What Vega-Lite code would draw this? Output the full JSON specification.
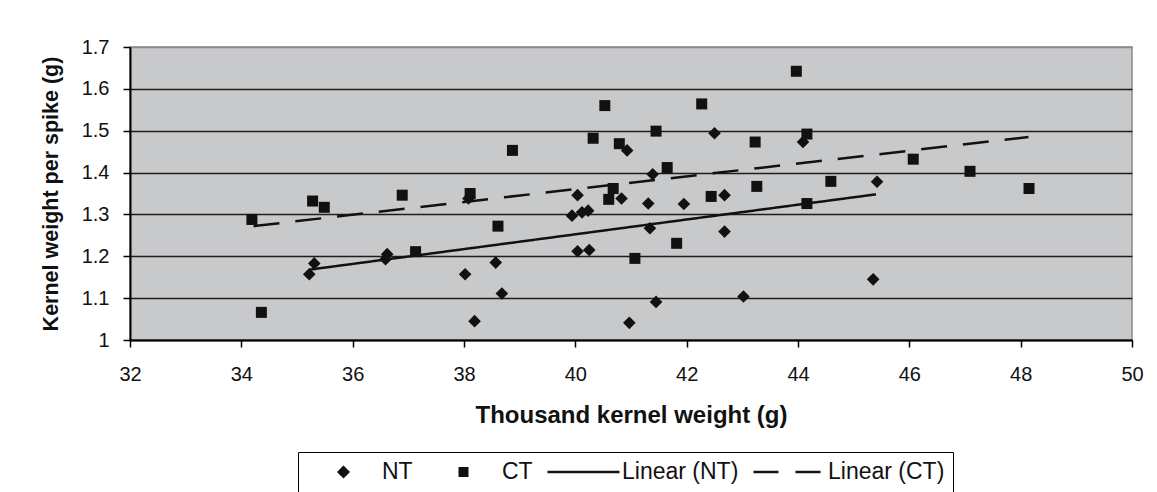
{
  "$schema": "https://vega.github.io/schema/vega-lite/v6.json",
  "width": 1002,
  "height": 293,
  "autosize": {"type": "none"},
  "padding": {"left": 130, "top": 47, "right": 25, "bottom": 152},
  "background": "white",
  "config": {
    "font": "Liberation Sans",
    "view": {"fill": "#c8c9cb", "stroke": "#8a8a8a", "strokeWidth": 1.5}
  },
  "datasets": {
    "pts": [
      {"series": "NT", "tkw": 35.22, "kws": 1.157},
      {"series": "NT", "tkw": 35.31, "kws": 1.183},
      {"series": "NT", "tkw": 36.59, "kws": 1.193},
      {"series": "NT", "tkw": 36.62, "kws": 1.205},
      {"series": "NT", "tkw": 38.02, "kws": 1.157},
      {"series": "NT", "tkw": 38.08, "kws": 1.338},
      {"series": "NT", "tkw": 38.19, "kws": 1.045},
      {"series": "NT", "tkw": 38.57, "kws": 1.185},
      {"series": "NT", "tkw": 38.68, "kws": 1.111},
      {"series": "NT", "tkw": 39.94, "kws": 1.297},
      {"series": "NT", "tkw": 40.04, "kws": 1.346},
      {"series": "NT", "tkw": 40.04, "kws": 1.212},
      {"series": "NT", "tkw": 40.12, "kws": 1.305},
      {"series": "NT", "tkw": 40.23, "kws": 1.309},
      {"series": "NT", "tkw": 40.25, "kws": 1.215},
      {"series": "NT", "tkw": 40.83, "kws": 1.338},
      {"series": "NT", "tkw": 40.93, "kws": 1.453},
      {"series": "NT", "tkw": 40.97, "kws": 1.041},
      {"series": "NT", "tkw": 41.31, "kws": 1.326},
      {"series": "NT", "tkw": 41.34, "kws": 1.267},
      {"series": "NT", "tkw": 41.39, "kws": 1.396},
      {"series": "NT", "tkw": 41.45, "kws": 1.091},
      {"series": "NT", "tkw": 41.95, "kws": 1.325},
      {"series": "NT", "tkw": 42.5, "kws": 1.494},
      {"series": "NT", "tkw": 42.68, "kws": 1.346},
      {"series": "NT", "tkw": 42.68, "kws": 1.259},
      {"series": "NT", "tkw": 43.02, "kws": 1.104},
      {"series": "NT", "tkw": 44.09, "kws": 1.473},
      {"series": "NT", "tkw": 45.35, "kws": 1.145},
      {"series": "NT", "tkw": 45.42, "kws": 1.378},
      {"series": "CT", "tkw": 34.19, "kws": 1.288},
      {"series": "CT", "tkw": 34.36, "kws": 1.066},
      {"series": "CT", "tkw": 35.28, "kws": 1.332},
      {"series": "CT", "tkw": 35.49, "kws": 1.317},
      {"series": "CT", "tkw": 36.89, "kws": 1.346},
      {"series": "CT", "tkw": 37.13, "kws": 1.211},
      {"series": "CT", "tkw": 38.11, "kws": 1.35},
      {"series": "CT", "tkw": 38.61, "kws": 1.272},
      {"series": "CT", "tkw": 38.87, "kws": 1.453},
      {"series": "CT", "tkw": 40.32, "kws": 1.482},
      {"series": "CT", "tkw": 40.53, "kws": 1.56},
      {"series": "CT", "tkw": 40.6, "kws": 1.336},
      {"series": "CT", "tkw": 40.68, "kws": 1.362},
      {"series": "CT", "tkw": 40.79, "kws": 1.469},
      {"series": "CT", "tkw": 41.07, "kws": 1.195},
      {"series": "CT", "tkw": 41.45, "kws": 1.499},
      {"series": "CT", "tkw": 41.65, "kws": 1.412},
      {"series": "CT", "tkw": 41.82, "kws": 1.231},
      {"series": "CT", "tkw": 42.27, "kws": 1.564},
      {"series": "CT", "tkw": 42.44, "kws": 1.343},
      {"series": "CT", "tkw": 43.23, "kws": 1.473},
      {"series": "CT", "tkw": 43.26, "kws": 1.367},
      {"series": "CT", "tkw": 43.97, "kws": 1.642},
      {"series": "CT", "tkw": 44.16, "kws": 1.492},
      {"series": "CT", "tkw": 44.16, "kws": 1.326},
      {"series": "CT", "tkw": 44.59, "kws": 1.379},
      {"series": "CT", "tkw": 46.07, "kws": 1.432},
      {"series": "CT", "tkw": 47.09, "kws": 1.403},
      {"series": "CT", "tkw": 48.15, "kws": 1.362}
    ],
    "trend": [
      {"series": "Linear (NT)", "tkw": 35.22, "kws": 1.168},
      {"series": "Linear (NT)", "tkw": 45.4, "kws": 1.348},
      {"series": "Linear (CT)", "tkw": 34.22, "kws": 1.272},
      {"series": "Linear (CT)", "tkw": 48.14, "kws": 1.485}
    ]
  },
  "encoding": {
    "x": {
      "field": "tkw", "type": "quantitative",
      "scale": {"domain": [32, 50], "nice": false, "zero": false},
      "axis": {
        "values": [32, 34, 36, 38, 40, 42, 44, 46, 48, 50],
        "format": "~g",
        "grid": false,
        "domainColor": "#000", "domainWidth": 2,
        "tickColor": "#000", "tickSize": 7, "tickWidth": 1.5,
        "labelFontSize": 20, "labelColor": "#111", "labelPadding": 17,
        "labelFlush": false,
        "title": "Thousand kernel weight (g)",
        "titleFontSize": 24, "titleFontWeight": "bold", "titleColor": "#111",
        "titlePadding": 19
      }
    },
    "y": {
      "field": "kws", "type": "quantitative",
      "scale": {"domain": [1, 1.7], "nice": false, "zero": false},
      "axis": {
        "values": [1, 1.1, 1.2, 1.3, 1.4, 1.5, 1.6, 1.7],
        "format": "~g",
        "grid": true,
        "gridColor": {"condition": {"test": "datum.value >= 1.69", "value": "#8a8a8a"}, "value": "#1e1e1e"},
        "gridWidth": 1.5,
        "domainColor": "#000", "domainWidth": 2,
        "tickColor": "#000", "tickSize": 7, "tickWidth": 1.5,
        "labelFontSize": 20, "labelColor": "#111", "labelPadding": 14,
        "title": "Kernel weight per spike (g)",
        "titleFontSize": 21.5, "titleFontWeight": "bold", "titleColor": "#111",
        "titlePadding": 19
      }
    },
    "color": {
      "field": "series", "type": "nominal",
      "scale": {"domain": ["NT", "CT", "Linear (NT)", "Linear (CT)"], "range": ["#111", "#111", "#111", "#111"]},
      "legend": {
        "orient": "none", "legendX": 168, "legendY": 405,
        "direction": "horizontal", "title": null,
        "labelFontSize": 23, "labelColor": "#111", "labelFont": "Liberation Sans",
        "strokeColor": "#000", "padding": 8, "columnPadding": 13, "labelOffset": 1,
        "clipHeight": 24,
        "symbolSize": 5184, "symbolStrokeWidth": 2.5,
        "symbolStrokeColor": "#111", "symbolFillColor": "#111", "symbolOpacity": 1,
        "symbolType": {"expr": "datum.value === 'NT' ? 'M-0.132,0L0,-0.132L0.132,0L0,0.132Z' : (datum.value === 'CT' ? 'M-0.104,-0.104H0.104V0.104H-0.104Z' : 'stroke')"},
        "symbolDash": {"expr": "datum.value === 'Linear (CT)' ? [25, 17] : [1, 0]"}
      }
    }
  },
  "layer": [
    {
      "data": {"name": "pts"},
      "mark": {"type": "point", "filled": true, "opacity": 1},
      "encoding": {
        "shape": {"field": "series", "type": "nominal", "scale": {"domain": ["NT", "CT"], "range": ["diamond", "square"]}, "legend": null},
        "size": {"field": "series", "type": "nominal", "scale": {"domain": ["NT", "CT"], "range": [160, 121]}, "legend": null}
      }
    },
    {
      "data": {"name": "trend"},
      "mark": {"type": "line", "strokeWidth": 2.5},
      "encoding": {
        "strokeDash": {"field": "series", "type": "nominal", "scale": {"domain": ["Linear (NT)", "Linear (CT)"], "range": [[1, 0], [26, 16]]}, "legend": null}
      }
    }
  ]
}
